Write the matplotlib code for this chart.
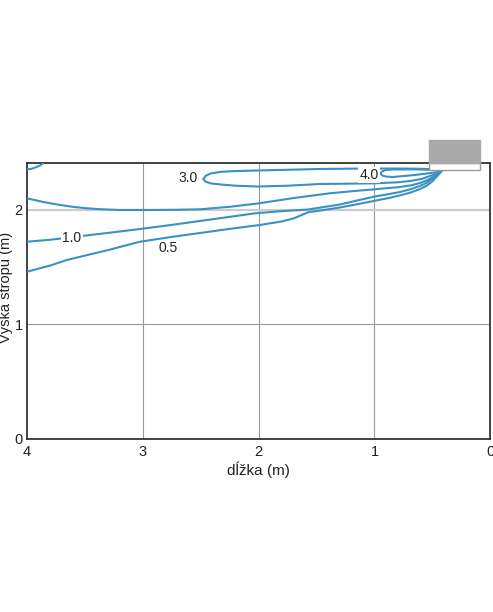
import matplotlib
matplotlib.use("Agg")
import matplotlib.pyplot as plt
from matplotlib.patches import Rectangle

plt.rcParams['font.family'] = ['Liberation Sans', 'DejaVu Sans']

# contour lines: x = length (m), y = height (m)
c05_x = [4.0, 3.80, 3.658, 3.30, 3.025, 2.75, 2.507, 2.25, 1.989, 1.80, 1.700, 1.620, 1.574,
         1.45, 1.298, 1.15, 0.996, 0.880, 0.780, 0.690, 0.607, 0.550, 0.503, 0.465, 0.434, 0.408]
c05_y = [1.461, 1.515, 1.563, 1.650, 1.723, 1.765, 1.799, 1.835, 1.869, 1.900, 1.926, 1.960, 1.980,
         1.998, 2.022, 2.050, 2.081, 2.104, 2.127, 2.152, 2.183, 2.212, 2.248, 2.288, 2.323, 2.349]

c10_x = [4.0, 3.80, 3.526, 3.25, 3.025, 2.75, 2.507, 2.25, 2.032, 1.80, 1.574, 1.45, 1.298,
         1.15, 0.996, 0.880, 0.780, 0.690, 0.607, 0.550, 0.503, 0.460, 0.426]
c10_y = [1.723, 1.740, 1.773, 1.806, 1.834, 1.870, 1.904, 1.940, 1.971, 1.990, 2.004, 2.024, 2.048,
         2.083, 2.118, 2.138, 2.157, 2.181, 2.210, 2.237, 2.271, 2.308, 2.341]

c20_x = [4.0, 3.85, 3.716, 3.60, 3.485, 3.35, 3.198, 2.939, 2.700, 2.507, 2.250, 2.007, 1.700,
         1.385, 1.150, 0.996, 0.780, 0.680, 0.607, 0.540, 0.495, 0.455, 0.426]
c20_y = [2.102, 2.068, 2.044, 2.027, 2.015, 2.006, 2.000, 2.000, 2.002, 2.006, 2.028, 2.057, 2.104,
         2.146, 2.168, 2.181, 2.201, 2.216, 2.236, 2.262, 2.288, 2.318, 2.341]

c30_x = [0.426, 0.600, 0.780, 1.126, 1.471, 2.007, 2.200, 2.320, 2.410, 2.455, 2.478, 2.460,
         2.410, 2.320, 2.200, 2.007, 1.750, 1.471, 0.996, 0.800, 0.693, 0.590, 0.495, 0.426]
c30_y = [2.354, 2.360, 2.362, 2.362, 2.358, 2.345, 2.340, 2.334, 2.320, 2.300, 2.271, 2.248,
         2.232, 2.222, 2.212, 2.205, 2.212, 2.227, 2.233, 2.242, 2.253, 2.272, 2.306, 2.341]

c40_x = [0.434, 0.650, 0.840, 0.900, 0.935, 0.948, 0.935, 0.900, 0.840, 0.650, 0.520, 0.434]
c40_y = [2.349, 2.355, 2.354, 2.350, 2.337, 2.319, 2.302, 2.292, 2.288, 2.306, 2.322, 2.336]

corner_x = [4.0, 3.960, 3.928, 3.890, 3.860]
corner_y = [2.354, 2.360, 2.371, 2.388, 2.408]

contours = [(c05_x, c05_y), (c10_x, c10_y), (c20_x, c20_y),
            (c30_x, c30_y), (c40_x, c40_y), (corner_x, corner_y)]

labels = ['0.5', '1.0', '3.0', '4.0']
label_x = [2.784, 3.613, 2.611, 1.047]
label_y = [1.668, 1.755, 2.279, 2.306]

# supply diffuser at the ceiling
diff_x0, diff_x1 = 0.09, 0.53
diff_y0, ceiling, diff_y1 = 2.347, 2.408, 2.61

fig = plt.figure(figsize=(4.93, 6.12), dpi=100)
ax = fig.add_axes([0.0548, 0.2827, 0.9397, 0.4505])

line_color = '#3a91c2'
for xs, ys in contours:
    ax.plot(xs, ys, color=line_color, lw=1.5, zorder=3,
            solid_capstyle='round', solid_joinstyle='round')

for txt, lx, ly in zip(labels, label_x, label_y):
    ax.text(lx, ly, txt, fontsize=10, ha='center', va='center', color='#222222', zorder=4,
            bbox=dict(facecolor='white', edgecolor='none', pad=1.0))

ax.add_patch(Rectangle((diff_x1, diff_y0), diff_x0 - diff_x1, ceiling - diff_y0,
                       facecolor='white', edgecolor='#9a9a9a', lw=1.0, clip_on=False, zorder=5))
ax.add_patch(Rectangle((diff_x1, ceiling), diff_x0 - diff_x1, diff_y1 - ceiling,
                       facecolor='#aaaaaa', edgecolor='#aaaaaa', lw=1.0, clip_on=False, zorder=5))

ax.set_xlim(4, 0)
ax.set_ylim(0, ceiling)
ax.set_xticks([4, 3, 2, 1, 0])
ax.set_yticks([0, 1, 2])
ax.tick_params(length=0, labelsize=10.5, colors='#222222')
ax.tick_params(axis='x', pad=4)
ax.tick_params(axis='y', pad=3)

for xv in [3, 2, 1]:
    ax.axvline(xv, color='#9a9a9a', lw=0.8, zorder=1)
ax.axhline(1, color='#9a9a9a', lw=0.8, zorder=1)
ax.axhline(2, color='#cccccc', lw=1.6, zorder=1)

for s in ax.spines.values():
    s.set_color('#333333')
    s.set_linewidth(1.3)

ax.set_xlabel('dĺžka (m)', fontsize=11, color='#222222', labelpad=2)
ax.set_ylabel('Výška stropu (m)', fontsize=10.5, color='#222222')
ax.yaxis.set_label_coords(-0.03, 0.55)

fig.savefig('out.png', dpi=100)
